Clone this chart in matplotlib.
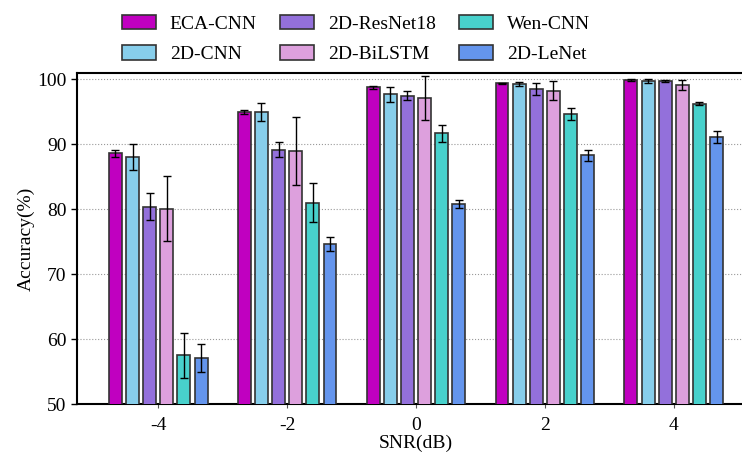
import matplotlib.pyplot as plt
import numpy as np

plt.rcParams['font.family'] = ['Liberation Serif', 'DejaVu Serif']

snr = ['-4', '-2', '0', '2', '4']
models = ['ECA-CNN', '2D-CNN', '2D-ResNet18', '2D-BiLSTM', 'Wen-CNN', '2D-LeNet']
colors = ['#C000C0', '#87CEEB', '#9370DB', '#DDA0DD', '#48D1CC', '#6495ED']

# mean accuracy per model, one value per SNR
eca_cnn = [88.6, 95.0, 98.8, 99.4, 99.9]
cnn_2d = [88.1, 95.0, 97.7, 99.3, 99.8]
resnet18 = [80.4, 89.2, 97.5, 98.5, 99.8]
bilstm = [80.1, 89.0, 97.1, 98.3, 99.2]
wen_cnn = [57.5, 81.0, 91.7, 94.7, 96.3]
lenet = [57.1, 74.7, 80.8, 88.3, 91.1]

# error (half length of the bar)
eca_err = [0.5, 0.3, 0.2, 0.1, 0.1]
cnn_err = [2.0, 1.4, 1.2, 0.3, 0.35]
resnet_err = [2.1, 1.2, 0.7, 0.9, 0.15]
bilstm_err = [5.0, 5.2, 3.4, 1.5, 0.75]
wen_err = [3.5, 3.0, 1.3, 0.9, 0.3]
lenet_err = [2.1, 1.1, 0.65, 0.9, 0.95]

means = [eca_cnn, cnn_2d, resnet18, bilstm, wen_cnn, lenet]
errs = [eca_err, cnn_err, resnet_err, bilstm_err, wen_err, lenet_err]

fig = plt.figure(figsize=(7.42, 4.58), dpi=100)
ax = fig.add_axes([0.1038, 0.1179, 0.9137, 0.7227])

x = np.arange(len(snr))
step = 0.133
width = 0.1
for i in range(len(models)):
    off = (i - 2.5) * step
    ax.bar(x + off, means[i], width, yerr=errs[i], color=colors[i],
           edgecolor='#333333', linewidth=1.2, label=models[i], zorder=3,
           error_kw=dict(ecolor='black', elinewidth=1.0, capsize=3, capthick=1.0, zorder=4))

ax.set_ylim(50, 101)
ax.set_xlim(-0.63, 4.63)
ax.set_xticks(x)
ax.set_xticklabels(snr)
ax.set_yticks([50, 60, 70, 80, 90, 100])
ax.yaxis.grid(True, linestyle=':', color='#999999', linewidth=0.8, zorder=0)
ax.spines['right'].set_visible(False)
for s in ['left', 'bottom', 'top']:
    ax.spines[s].set_linewidth(1.5)
ax.tick_params(axis='y', labelsize=14, length=4, width=1)
ax.tick_params(axis='x', labelsize=14, length=3, width=0.8, color='#555555', pad=6)
ax.set_ylabel('Accuracy(%)', fontsize=14, labelpad=2)
ax.set_xlabel('SNR(dB)', fontsize=14, labelpad=1)

fig.legend(loc='upper left', bbox_to_anchor=(0.164, 0.968), ncol=3, frameon=False,
           fontsize=14, handlelength=1.75, handleheight=0.77, handletextpad=0.72,
           columnspacing=1.2, labelspacing=0.65, borderpad=0, borderaxespad=0)

fig.savefig('out.png', dpi=100)
